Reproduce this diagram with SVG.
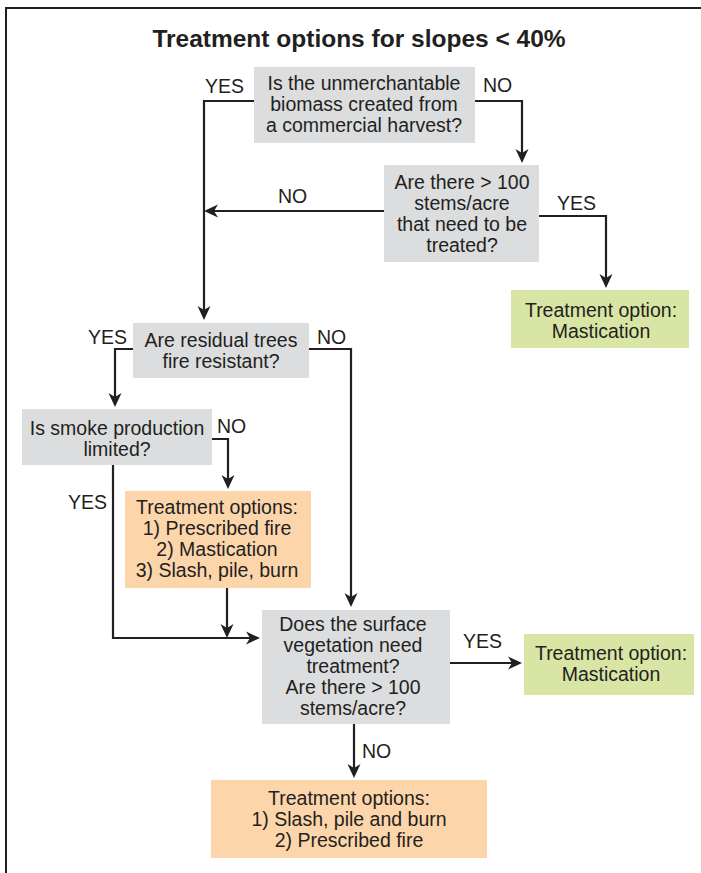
<svg xmlns="http://www.w3.org/2000/svg" width="701" height="873" viewBox="0 0 701 873">
<style>
  text { font-family: "Liberation Sans", Arial, sans-serif; font-size: 19.5px; fill: #231f20; }
  .c { text-anchor: middle; }
  .title { font-size: 24.5px; font-weight: bold; }
  .q { fill: #dcdddf; }
  .g { fill: #d8e5a4; }
  .o { fill: #fdd5ab; }
  .ln { fill: none; stroke: #231f20; stroke-width: 2.2; }
  .frame { fill: none; stroke: #231f20; stroke-width: 2; }
</style>
<defs>
  <marker id="arr" markerUnits="userSpaceOnUse" viewBox="-7 -8 16 16" refX="0" refY="0" markerWidth="16" markerHeight="16" orient="auto">
    <path d="M8,0 L-6,-6.5 L-2,0 L-6,6.5 Z" fill="#231f20"/>
  </marker>
</defs>
<rect width="701" height="873" fill="#ffffff"/>
<path class="frame" d="M6,873 V8 H701"/>
<text class="title c" x="359" y="47">Treatment options for slopes &lt; 40%</text>

<g id="connectors">
  <path class="ln" d="M254,101 H204 V312" marker-end="url(#arr)"/>
  <path class="ln" d="M475,101 H522 V155" marker-end="url(#arr)"/>
  <path class="ln" d="M384,211 H212" marker-end="url(#arr)"/>
  <path class="ln" d="M539,216 H606 V280" marker-end="url(#arr)"/>
  <path class="ln" d="M133,349 H115 V399" marker-end="url(#arr)"/>
  <path class="ln" d="M309,349 H351 V599" marker-end="url(#arr)"/>
  <path class="ln" d="M212,439 H228 V481" marker-end="url(#arr)"/>
  <path class="ln" d="M113,465 V638 H252" marker-end="url(#arr)"/>
  <path class="ln" d="M227,588 V630" marker-end="url(#arr)"/>
  <path class="ln" d="M450,663 H514" marker-end="url(#arr)"/>
  <path class="ln" d="M354,724 V770" marker-end="url(#arr)"/>
  <text x="205" y="93">YES</text>
  <text x="483" y="92">NO</text>
  <text x="278" y="203">NO</text>
  <text x="557" y="210">YES</text>
  <text x="88" y="344">YES</text>
  <text x="317" y="344">NO</text>
  <text x="217" y="433">NO</text>
  <text x="68" y="509">YES</text>
  <text x="463" y="648">YES</text>
  <text x="362" y="758">NO</text>
</g>

<g id="q-harvest">
  <rect class="q" x="254" y="67" width="221" height="76"/>
  <text class="c" x="364" y="90">Is the unmerchantable</text>
  <text class="c" x="364" y="111">biomass created from</text>
  <text class="c" x="364" y="132">a commercial harvest?</text>
</g>

<g id="q-stems">
  <rect class="q" x="384" y="165" width="155" height="97"/>
  <text class="c" x="462" y="189">Are there &gt; 100</text>
  <text class="c" x="462" y="210">stems/acre</text>
  <text class="c" x="462" y="231">that need to be</text>
  <text class="c" x="462" y="252">treated?</text>
</g>

<g id="t-mastication-1">
  <rect class="g" x="511" y="290" width="178" height="58"/>
  <text class="c" x="601" y="317">Treatment option:</text>
  <text class="c" x="601" y="338">Mastication</text>
</g>

<g id="q-residual">
  <rect class="q" x="133" y="323" width="176" height="55"/>
  <text class="c" x="221" y="347">Are residual trees</text>
  <text class="c" x="221" y="368">fire resistant?</text>
</g>

<g id="q-smoke">
  <rect class="q" x="22" y="409" width="190" height="56"/>
  <text class="c" x="117" y="435">Is smoke production</text>
  <text class="c" x="117" y="456">limited?</text>
</g>

<g id="t-options-1">
  <rect class="o" x="125" y="491" width="186" height="97"/>
  <text class="c" x="217" y="514">Treatment options:</text>
  <text class="c" x="217" y="535">1) Prescribed fire</text>
  <text class="c" x="217" y="556">2) Mastication</text>
  <text class="c" x="217" y="577">3) Slash, pile, burn</text>
</g>

<g id="q-surface">
  <rect class="q" x="262" y="610" width="188" height="114"/>
  <text class="c" x="353" y="631">Does the surface</text>
  <text class="c" x="353" y="652">vegetation need</text>
  <text class="c" x="353" y="673">treatment?</text>
  <text class="c" x="353" y="694">Are there &gt; 100</text>
  <text class="c" x="353" y="715">stems/acre?</text>
</g>

<g id="t-mastication-2">
  <rect class="g" x="524" y="634" width="170" height="61"/>
  <text class="c" x="611" y="660">Treatment option:</text>
  <text class="c" x="611" y="681">Mastication</text>
</g>

<g id="t-options-2">
  <rect class="o" x="211" y="780" width="276" height="78"/>
  <text class="c" x="349" y="805">Treatment options:</text>
  <text class="c" x="349" y="826">1) Slash, pile and burn</text>
  <text class="c" x="349" y="847">2) Prescribed fire</text>
</g>
</svg>
